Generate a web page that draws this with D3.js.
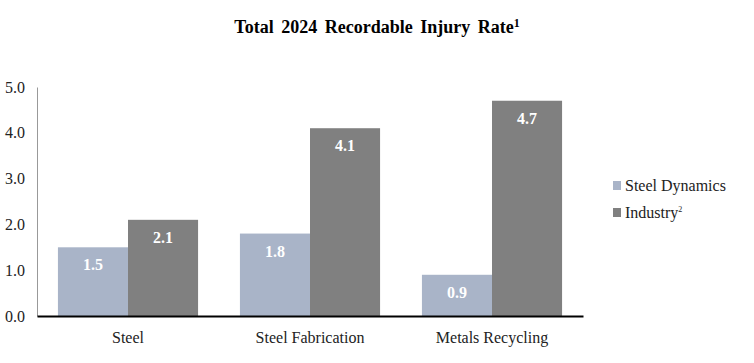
<!DOCTYPE html>
<html>
<head>
<meta charset="utf-8">
<script src="https://cdn.jsdelivr.net/npm/d3@7"></script>
<style>
  body { margin: 0; background: #fff; }
  svg, svg text { font-family: "Times New Roman", "Liberation Serif", "DejaVu Serif", serif !important; }
</style>
</head>
<body>
<div class="content"></div>
<script>
(function() {

  // Chart data
  var categories = ['Steel', 'Steel Fabrication', 'Metals Recycling'];
  var seriesNames = ['Steel Dynamics', 'Industry'];
  var steelDynamics = [1.5, 1.8, 0.9];
  var industry = [2.1, 4.1, 4.7];
  var yTicks = [0, 1, 2, 3, 4, 5];

  // Design variables
  var width = 754;
  var height = 363;
  var colors = ['#a9b4c8', '#808080'];

  var svg = d3.select('.content').append('svg')
      .attr('width', width)
      .attr('height', height);

  // Scales
  var x = d3.scaleBand()
    .domain(categories)
    .range([37, 583])
    .paddingInner(0.23)
    .paddingOuter(0.115);

  var xSub = d3.scaleBand()
    .domain(seriesNames)
    .range([0, x.bandwidth()]);

  var y = d3.scaleLinear()
    .domain([0, 5])
    .range([316, 87]);

  // Title
  var title = svg.append('text')
      .attr('x', 377)
      .attr('y', 33)
      .attr('text-anchor', 'middle')
      .style('font-size', '18px')
      .style('word-spacing', '3px')
      .style('font-weight', 'bold');
  title.append('tspan').text('Total 2024 Recordable Injury Rate');
  title.append('tspan').attr('dy', -6).style('font-size', '12px').text('1');

  // Y axis
  var yAxis = svg.append('g')
      .attr('transform', 'translate(37,0)')
      .call(d3.axisLeft(y).tickValues(yTicks).tickSize(0).tickPadding(12)
        .tickFormat(d3.format('.1f')));
  yAxis.select('.domain').attr('stroke', '#999');
  yAxis.selectAll('text')
      .attr('text-anchor', 'end')
      .style('font-size', '16px')
      .attr('fill', '#222');

  // Bars
  var rows = categories.map(function(c, i) {
    return [
      { cat: c, series: seriesNames[0], value: steelDynamics[i] },
      { cat: c, series: seriesNames[1], value: industry[i] }
    ];
  });

  var groups = svg.selectAll('.cat')
      .data(rows)
      .enter()
      .append('g')
      .attr('class', 'cat')
      .attr('transform', function(d) { return 'translate(' + x(d[0].cat) + ',0)'; });

  groups.selectAll('rect')
      .data(function(d) { return d; })
      .enter()
      .append('rect')
      .attr('x', function(d) { return xSub(d.series); })
      .attr('y', function(d) { return y(d.value); })
      .attr('width', xSub.bandwidth())
      .attr('height', function(d) { return y(0) - y(d.value); })
      .attr('fill', function(d, i) { return colors[i]; });

  groups.selectAll('.val')
      .data(function(d) { return d; })
      .enter()
      .append('text')
      .attr('class', 'val')
      .attr('x', function(d) { return xSub(d.series) + xSub.bandwidth() / 2; })
      .attr('y', function(d) { return y(d.value) + 23; })
      .attr('text-anchor', 'middle')
      .attr('fill', '#fff')
      .style('font-size', '16px')
      .style('font-weight', 'bold')
      .text(function(d) { return d3.format('.1f')(d.value); });

  // X axis baseline + labels
  var xAxis = svg.append('g')
      .attr('transform', 'translate(0,' + y(0) + ')')
      .call(d3.axisBottom(x).tickSize(0).tickPadding(16));
  xAxis.select('.domain').attr('stroke', '#000').attr('stroke-width', 2);
  xAxis.selectAll('text')
      .style('font-size', '16px')
      .attr('fill', '#222');

  // Legend
  var legend = svg.append('g').attr('transform', 'translate(613,0)');
  var legendY = [186, 213];
  seriesNames.forEach(function(name, i) {
    legend.append('rect')
        .attr('x', 0)
        .attr('y', legendY[i] - 5)
        .attr('width', 8)
        .attr('height', 9)
        .attr('fill', colors[i]);
    var t = legend.append('text')
        .attr('x', 12)
        .attr('y', legendY[i] + 5)
        .attr('fill', '#222')
        .style('font-size', '16px');
    t.append('tspan').text(name);
    if (i === 1) {
      t.append('tspan').attr('dy', -6).style('font-size', '8px').text('2');
    }
  });

})();
</script>
</body>
</html>
